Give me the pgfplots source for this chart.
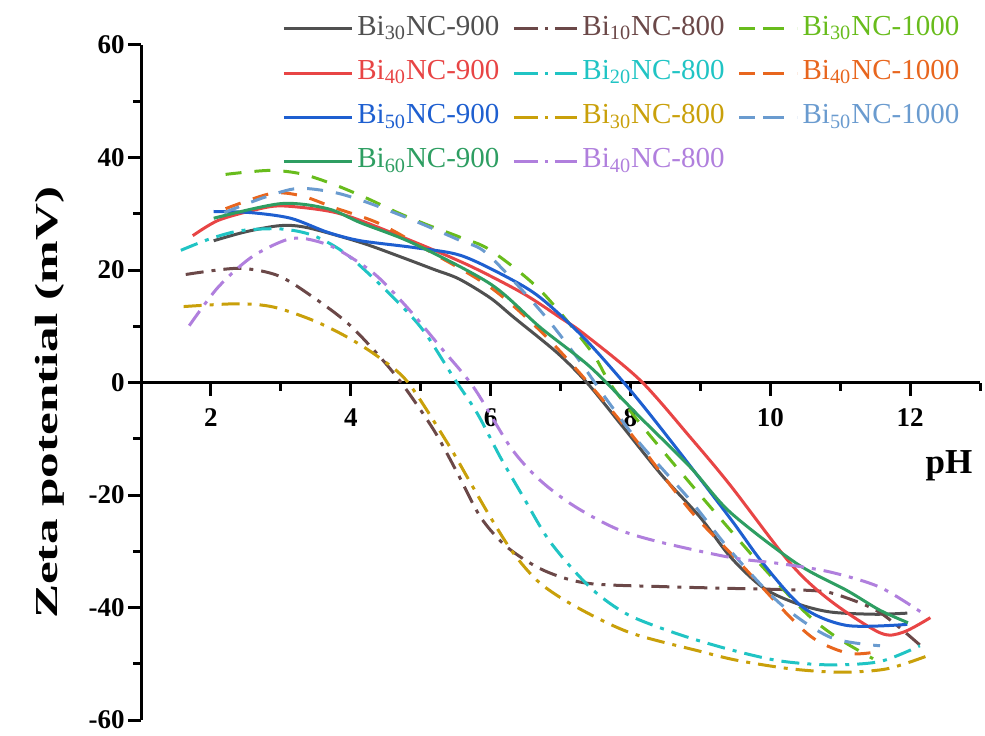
\documentclass[border=0pt]{standalone}
\usepackage{fontspec}
\setmainfont{Liberation Serif}
\usepackage{pgfplots}
\pgfplotsset{compat=1.18}
\definecolor{cA}{HTML}{505050}
\definecolor{cB}{HTML}{E84545}
\definecolor{cC}{HTML}{1E5FD0}
\definecolor{cD}{HTML}{2E9E62}
\definecolor{cE}{HTML}{6B4848}
\definecolor{cF}{HTML}{20C4C4}
\definecolor{cG}{HTML}{C9A00A}
\definecolor{cH}{HTML}{B07FDD}
\definecolor{cI}{HTML}{68BC1C}
\definecolor{cJ}{HTML}{E8661E}
\definecolor{cK}{HTML}{6A9BCF}
\pgfplotsset{
  sol/.style={line width=1.5pt, smooth, no markers, solid,
    legend image code/.code={\draw[##1] (0pt,0pt) -- (34pt,0pt);}},
  dd/.style={line width=1.5pt, smooth, no markers, dash pattern=on 9pt off 4pt on 2pt off 4pt,
    legend image code/.code={\draw[##1, dash pattern=on 12pt off 3.5pt on 1.5pt off 3.5pt] (0pt,0pt) -- (31.5pt,0pt);}},
  da/.style={line width=1.5pt, smooth, no markers, dash pattern=on 8pt off 6.5pt,
    legend image code/.code={\path (0pt,0pt) -- (29pt,0pt); \draw[##1, dash pattern=on 6.5pt off 5.5pt] (0pt,0pt) -- (18.5pt,0pt);}},
}
\begin{document}
\begin{tikzpicture}
\begin{axis}[
  at={(70.5pt,7.5pt)}, anchor=south west,
  scale only axis, width=419.5pt, height=337.5pt,
  xmin=1, xmax=13, ymin=-60, ymax=60,
  axis x line=middle, axis y line=left,
  axis line style={line width=1.5pt, -},
  xtick={2,4,...,12}, minor xtick={3,5,...,13},
  ytick={-60,-40,...,60}, minor ytick={-50,-30,...,50},
  tick align=outside,
  major tick length=6.5pt, minor tick length=4pt,
  every tick/.style={line width=1.5pt, black},
  /pgf/number format/assume math mode=true,
  ticklabel style={font=\fontsize{13.5}{13.5}\selectfont\bfseries},
  xticklabel style={yshift=-3pt},
  yticklabel style={inner xsep=1.5pt},
  xlabel={pH},
  xlabel style={at={(axis description cs:0.963,0.376)}, anchor=center, font=\fontsize{17.5}{17.5}\selectfont\bfseries},
  ylabel={\scalebox{1.6}[1]{Zeta potential (mV)}},
  ylabel style={at={(axis description cs:-0.1085,0.47)}, anchor=center, rotate=0, font=\fontsize{16}{16}\selectfont\bfseries},
  clip=false,
  legend columns=3,
  legend cell align=left,
  legend style={draw=none, fill=none, at={(axis description cs:0.168,1.0445)}, anchor=north west,
    font=\fontsize{14.5}{14.5}\selectfont, inner sep=0pt, row sep=8.6pt,
    nodes={inner xsep=2pt, inner ysep=0pt, text height=10pt, text depth=3.5pt},
    /tikz/every even column/.append style={column sep=4.5pt}},
]
% row 1
\addplot[sol, color=cA] coordinates {(2.04,25.2) (2.5,26.8) (3.0,27.9) (3.39,27.5) (4.14,24.9) (4.7,22.4) (5.19,20.1) (5.55,18.4) (6.0,15.0) (6.33,11.6) (6.96,5.2) (7.39,-0.2) (7.9,-8) (8.45,-16.5) (9.0,-24) (9.43,-31) (9.9,-36.5) (10.38,-39.3) (10.86,-40.8) (11.5,-41.2) (11.96,-41.0)};
\addlegendentry{\textcolor{cA}{Bi\textsubscript{30}NC-900}}
\addplot[dd, color=cE] coordinates {(1.64,19.2) (2.39,20.3) (2.96,19.0) (3.47,15.1) (3.96,10.5) (4.4,4.8) (4.75,-0.5) (5.19,-8.5) (5.53,-16.2) (5.86,-24) (6.24,-29.3) (6.76,-33.4) (7.39,-35.7) (8.5,-36.3) (9.43,-36.6) (10.62,-37) (11.0,-37.9) (11.57,-40.9) (12.17,-47)};
\addlegendentry{\textcolor{cE}{Bi\textsubscript{10}NC-800}}
\addplot[da, color=cI] coordinates {(2.21,37) (2.83,37.7) (3.29,37.1) (3.76,35.2) (4.24,32.7) (4.67,30.2) (5.1,28) (5.57,25.8) (6.0,23.5) (6.71,16.4) (7.43,5.7) (7.71,-0.2) (8.14,-7.3) (8.86,-18) (9.53,-27.7) (9.9,-32.9) (10.52,-41.1) (10.95,-45.3) (11.47,-49.1)};
\addlegendentry{\textcolor{cI}{Bi\textsubscript{30}NC-1000}}
% row 2
\addplot[sol, color=cB] coordinates {(1.74,26.1) (2.1,28.8) (2.6,30.6) (3.0,31.4) (3.67,30.5) (4.14,28.8) (5.1,24) (5.76,20.4) (6.47,15.8) (7.0,11.5) (7.33,8.7) (8.14,0.4) (8.86,-9.8) (9.43,-18.3) (10.29,-32.2) (10.86,-38.8) (11.57,-44.5) (11.9,-44.4) (12.29,-41.8)};
\addlegendentry{\textcolor{cB}{Bi\textsubscript{40}NC-900}}
\addplot[dd, color=cF] coordinates {(1.57,23.5) (2.0,25.6) (2.43,27) (3.0,27.3) (3.47,26.1) (3.96,22.6) (4.61,15.1) (5.04,9.2) (5.47,0.9) (5.81,-5.5) (6.14,-13.3) (6.47,-20.4) (6.81,-27.6) (7.19,-33.4) (7.55,-37.8) (8.0,-41.5) (8.7,-44.8) (9.43,-47.5) (10.14,-49.5) (10.86,-50.2) (11.57,-49.6) (12.14,-46.8)};
\addlegendentry{\textcolor{cF}{Bi\textsubscript{20}NC-800}}
\addplot[da, color=cJ] coordinates {(2.21,30.9) (2.86,33.6) (3.29,33.2) (3.76,31.1) (4.4,28.3) (5.1,23.5) (6.0,16.9) (6.71,9.2) (7.33,0.9) (8.05,-9.8) (8.86,-22.8) (9.53,-31.6) (10.29,-41.8) (10.67,-45.9) (11.14,-48.2) (11.57,-47.8)};
\addlegendentry{\textcolor{cJ}{Bi\textsubscript{40}NC-1000}}
% row 3
\addplot[sol, color=cC] coordinates {(2.04,30.4) (2.57,30.2) (3.14,29.2) (3.67,26.7) (4.14,25.2) (4.9,24.0) (5.57,22.6) (6.24,18.7) (6.71,15.1) (7.33,8.0) (8.0,-1.4) (8.61,-10.9) (9.43,-24.2) (9.9,-32.2) (10.47,-40) (11.1,-43.2) (11.96,-43.0)};
\addlegendentry{\textcolor{cC}{Bi\textsubscript{50}NC-900}}
\addplot[dd, color=cG] coordinates {(1.61,13.5) (2.39,14.0) (2.9,13.4) (3.47,11.0) (3.96,8.0) (4.4,4.5) (4.82,0) (5.39,-10.9) (5.67,-16.9) (6.0,-24) (6.33,-30.4) (6.71,-35.7) (7.24,-40) (8.0,-44.5) (9.0,-47.8) (9.53,-49.4) (10.29,-50.9) (11.0,-51.5) (11.67,-50.9) (12.29,-48.4)};
\addlegendentry{\textcolor{cG}{Bi\textsubscript{30}NC-800}}
\addplot[da, color=cK] coordinates {(2.19,30.2) (2.76,32.9) (3.24,34.5) (3.76,33.8) (4.24,32) (4.9,28.8) (5.57,25.2) (5.95,22.9) (6.71,12.8) (7.24,4.4) (7.67,-3.2) (8.14,-10.9) (8.86,-21) (9.43,-29.9) (10.14,-39.3) (10.86,-45.3) (11.57,-46.8)};
\addlegendentry{\textcolor{cK}{Bi\textsubscript{50}NC-1000}}
% row 4
\addplot[sol, color=cD] coordinates {(2.04,29.2) (3.0,31.8) (3.67,30.9) (4.14,28.4) (4.9,24.7) (6.0,17.5) (6.71,9.8) (7.43,2.7) (8.14,-6.2) (8.86,-15.1) (9.43,-23.1) (10.38,-32.2) (11.1,-37) (11.57,-40.5) (11.97,-42.7)};
\addlegendentry{\textcolor{cD}{Bi\textsubscript{60}NC-900}}
\addplot[dd, color=cH] coordinates {(1.69,10.1) (2.1,16.9) (2.57,22.2) (3.04,25.2) (3.33,25.6) (3.76,24) (4.33,19.4) (4.81,13.3) (5.29,6.2) (5.76,-0.9) (6.29,-11.6) (6.71,-17.4) (7.2,-22) (7.8,-26) (8.4,-28.3) (9.43,-31.1) (10.14,-32.2) (10.86,-33.7) (11.57,-36.4) (12.19,-41.1)};
\addlegendentry{\textcolor{cH}{Bi\textsubscript{40}NC-800}}
\end{axis}
\pgfresetboundingbox
\useasboundingbox (0,0) rectangle (492.5pt,367.5pt);
\end{tikzpicture}
\end{document}
